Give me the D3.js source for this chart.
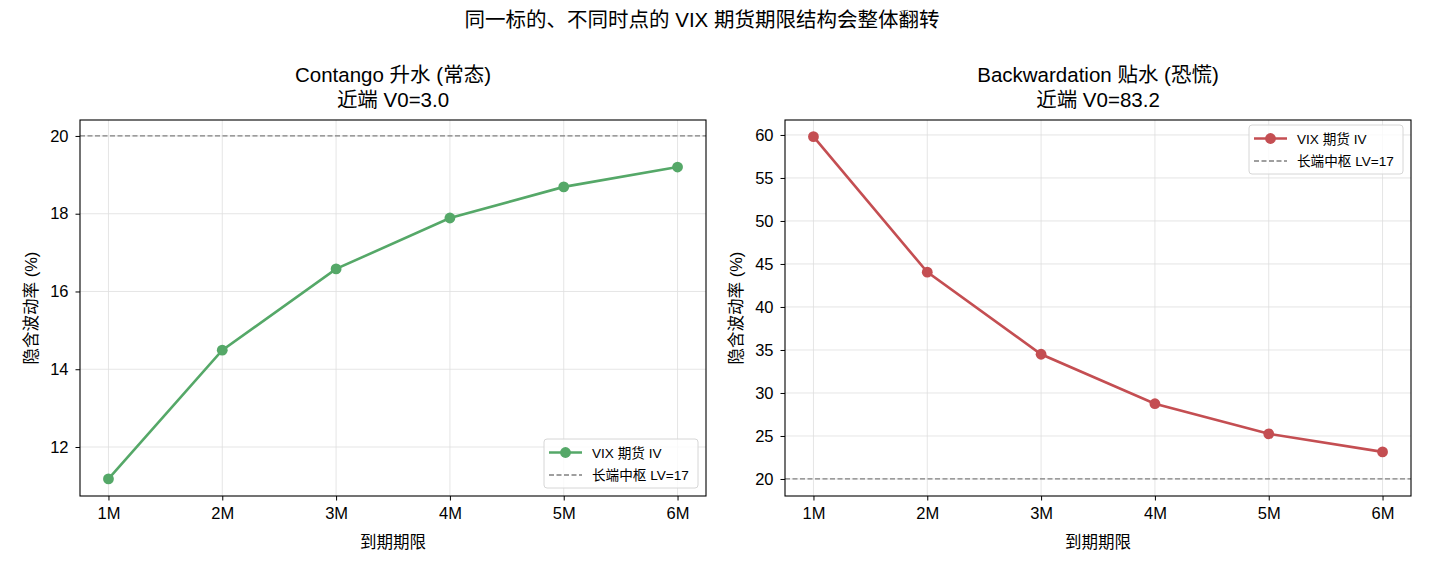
<!DOCTYPE html>
<html>
<head>
<meta charset="utf-8">
<script src="https://cdn.jsdelivr.net/npm/d3@7"></script>
<style>
  body { margin: 0; background: #fff; }
  text { font-family: "Liberation Sans", Arial, "Noto Sans CJK SC", sans-serif; fill: #000; }
</style>
</head>
<body>
<div id="chart"></div>
<script>
// data
const tenors = ["1M", "2M", "3M", "4M", "5M", "6M"];
const contangoIV = [11.18, 14.49, 16.58, 17.89, 18.69, 19.2];
const backwardIV = [59.8, 44.05, 34.5, 28.75, 25.25, 23.15];
const contangoTicks = [12, 14, 16, 18, 20];
const backwardTicks = [20, 25, 30, 35, 40, 45, 50, 55, 60];
const refLevel = 20;

const W = 1430, H = 572;
const svg = d3.select("#chart").append("svg")
    .attr("width", W).attr("height", H);

svg.append("text")
    .attr("x", 702).attr("y", 27)
    .attr("text-anchor", "middle")
    .attr("font-size", "20.5px")
    .text("同一标的、不同时点的 VIX 期货期限结构会整体翻转");

const panels = [
    {left: 80, title1: "Contango 升水 (常态)", title2: "近端 V0=3.0", values: contangoIV,
     ticks: contangoTicks, domain: [10.74, 20.41], color: "#55a868", legend: "bottom"},
    {left: 785, title1: "Backwardation 贴水 (恐慌)", title2: "近端 V0=83.2", values: backwardIV,
     ticks: backwardTicks, domain: [18.02, 61.74], color: "#c44e52", legend: "top"}
];

const plotTop = 120, plotW = 626, plotH = 376;

panels.forEach(p => {
    const g = svg.append("g").attr("transform", `translate(${p.left},${plotTop})`);

    // matplotlib 5% margins: 0.25 units padding on a 5-unit span
    const xLin = d3.scaleLinear().domain([-0.25, 5.25]).range([0, plotW]);
    const y = d3.scaleLinear().domain(p.domain).range([plotH, 0]);

    // grid
    g.selectAll(".vgrid").data(tenors).join("line")
        .attr("x1", (d, i) => xLin(i)).attr("x2", (d, i) => xLin(i))
        .attr("y1", 0).attr("y2", plotH)
        .attr("stroke", "#dedede").attr("stroke-width", 0.8);
    g.selectAll(".hgrid").data(p.ticks).join("line")
        .attr("x1", 0).attr("x2", plotW)
        .attr("y1", d => y(d)).attr("y2", d => y(d))
        .attr("stroke", "#dedede").attr("stroke-width", 0.8);

    // reference line
    g.append("line")
        .attr("x1", 0).attr("x2", plotW)
        .attr("y1", y(refLevel)).attr("y2", y(refLevel))
        .attr("stroke", "#808080").attr("stroke-width", 1.3)
        .attr("stroke-dasharray", "5,2.5");

    // series
    const line = d3.line().x((d, i) => xLin(i)).y(d => y(d));
    g.append("path").datum(p.values)
        .attr("d", line).attr("fill", "none")
        .attr("stroke", p.color).attr("stroke-width", 2.6);
    g.selectAll(".pt").data(p.values).join("circle")
        .attr("cx", (d, i) => xLin(i)).attr("cy", d => y(d))
        .attr("r", 5.4).attr("fill", p.color);

    // axes
    const xAxis = d3.axisBottom(xLin).tickValues(d3.range(tenors.length))
        .tickFormat(i => tenors[i]).tickSize(4.5).tickPadding(7);
    const yAxis = d3.axisLeft(y).tickValues(p.ticks).tickSize(4.5).tickPadding(7);
    g.append("g").attr("transform", `translate(0,${plotH})`).call(xAxis)
        .call(a => a.select(".domain").remove())
        .selectAll("text").attr("font-size", "16.5px").attr("font-family", "Liberation Sans, Arial, sans-serif");
    g.append("g").call(yAxis)
        .call(a => a.select(".domain").remove())
        .selectAll("text").attr("font-size", "16.5px").attr("font-family", "Liberation Sans, Arial, sans-serif");
    g.selectAll(".tick line").attr("stroke", "#000").attr("stroke-width", 1);

    g.append("rect").attr("width", plotW).attr("height", plotH)
        .attr("fill", "none").attr("stroke", "#000").attr("stroke-width", 1.1);

    // labels
    g.append("text").attr("x", plotW / 2).attr("y", plotH + 52)
        .attr("text-anchor", "middle").attr("font-size", "16.5px").text("到期期限");
    g.append("text").attr("transform", `translate(-43,${plotH / 2}) rotate(-90)`)
        .attr("text-anchor", "middle").attr("font-size", "16.5px").text("隐含波动率 (%)");
    g.append("text").attr("x", plotW / 2).attr("y", -38)
        .attr("text-anchor", "middle").attr("font-size", "20.5px").text(p.title1);
    g.append("text").attr("x", plotW / 2).attr("y", -13)
        .attr("text-anchor", "middle").attr("font-size", "20.5px").text(p.title2);

    // legend
    const lw = 154, lh = 49;
    const lx = plotW - lw - 8;
    const ly = p.legend === "bottom" ? plotH - lh - 8 : 5;
    const lg = g.append("g").attr("transform", `translate(${lx},${ly})`);
    lg.append("rect").attr("width", lw).attr("height", lh).attr("rx", 3)
        .attr("fill", "#fff").attr("fill-opacity", 0.8)
        .attr("stroke", "#d6d6d6").attr("stroke-width", 1);
    lg.append("line").attr("x1", 5).attr("x2", 38).attr("y1", 13.5).attr("y2", 13.5)
        .attr("stroke", p.color).attr("stroke-width", 2.6);
    lg.append("circle").attr("cx", 21.5).attr("cy", 13.5).attr("r", 5.4).attr("fill", p.color);
    lg.append("text").attr("x", 48).attr("y", 18.5).attr("font-size", "13.6px").text("VIX 期货 IV");
    lg.append("line").attr("x1", 5).attr("x2", 38).attr("y1", 36).attr("y2", 36)
        .attr("stroke", "#808080").attr("stroke-width", 1.3).attr("stroke-dasharray", "5,2.5");
    lg.append("text").attr("x", 48).attr("y", 41).attr("font-size", "13.6px").text("长端中枢 LV=17");
});
</script>
</body>
</html>
